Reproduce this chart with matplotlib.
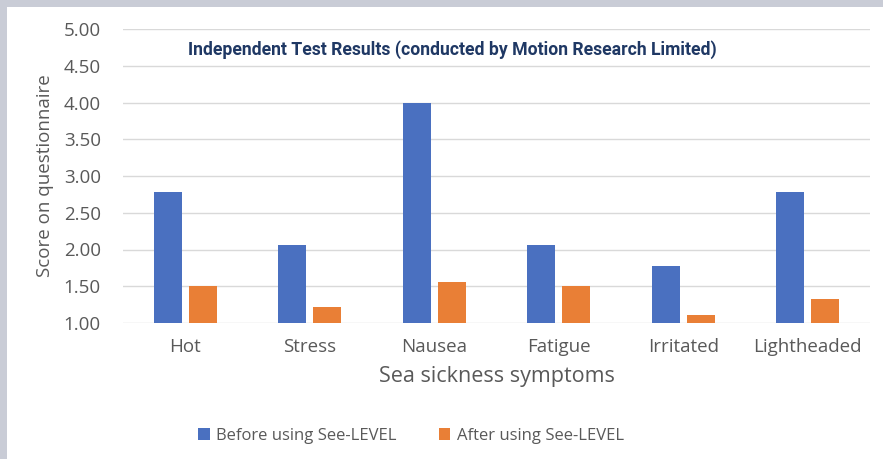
import numpy as np
import matplotlib.pyplot as plt
from matplotlib.patches import Rectangle

categories = ['Hot', 'Stress', 'Nausea', 'Fatigue', 'Irritated', 'Lightheaded']
before = [2.78, 2.06, 4.00, 2.06, 1.78, 2.78]
after = [1.50, 1.22, 1.56, 1.50, 1.11, 1.33]
yticks = [1.0, 1.5, 2.0, 2.5, 3.0, 3.5, 4.0, 4.5, 5.0]

plt.rcParams['font.family'] = ['Open Sans', 'DejaVu Sans']

fig = plt.figure(figsize=(8.83, 4.59), dpi=100, facecolor='#c9ccd6')
# white card behind the chart
fig.patches.append(Rectangle((7 / 883, 0), 1, 1 - 7 / 459, transform=fig.transFigure,
                             facecolor='white', edgecolor='none', zorder=-10))

ax = fig.add_axes([123 / 883, (459 - 323) / 459, 747 / 883, 294 / 459])
ax.set_facecolor('white')

x = np.arange(len(categories))
w = 0.225
ax.bar(x - 0.14, np.array(before) - 1, w, bottom=1, color='#4a70c0', label='Before using See-LEVEL', zorder=3)
ax.bar(x + 0.14, np.array(after) - 1, w, bottom=1, color='#e97f36', label='After using See-LEVEL', zorder=3)

ax.set_xlim(-0.5, len(categories) - 0.5)
ax.set_ylim(1, 5)
ax.set_yticks(yticks)
ax.set_yticklabels(['%.2f' % t for t in yticks])
ax.set_xticks(x)
ax.set_xticklabels(categories)
ax.tick_params(length=0, labelsize=13.5, labelcolor='#595959')
ax.tick_params(axis='y', pad=16)
ax.tick_params(axis='x', pad=11)
ax.grid(axis='y', color='#d9d9d9', linewidth=1, zorder=0)
for s in ax.spines.values():
    s.set_visible(False)

ax.set_xlabel('Sea sickness symptoms', fontsize=15.5, color='#595959', labelpad=7)
ax.set_ylabel('Score on questionnaire', fontsize=13.5, color='#595959', labelpad=7)

fig.text(452 / 883, 1 - 50 / 459, 'Independent Test Results (conducted by Motion Research Limited)',
         ha='center', va='center', fontsize=12.7, fontweight='bold', color='#1f3864', family='Roboto')

fig.legend(loc='center', bbox_to_anchor=(411 / 883, 1 - 436 / 459), ncol=2, frameon=False,
           fontsize=12, labelcolor='#595959', handlelength=0.7, handleheight=0.7,
           columnspacing=2.5, handletextpad=0.4)

plt.savefig('out.png', dpi=100, facecolor=fig.get_facecolor())
